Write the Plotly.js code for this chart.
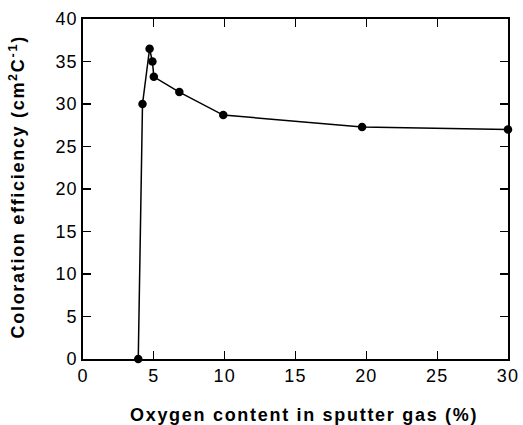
<!DOCTYPE html>
<html>
<head>
<meta charset="utf-8">
<script src="https://cdn.plot.ly/plotly-3.0.1.min.js"></script>
<style>
html,body{margin:0;padding:0;background:#fff;}
#chart{width:523px;height:425px;}
.xtick text,.ytick text{letter-spacing:1.2px;}
text.annotation-text{letter-spacing:1.7px;}
</style>
</head>
<body>
<div id="chart"></div>
<script>
const oxygen = [3.9, 4.2, 4.7, 4.9, 5.0, 6.8, 9.9, 19.7, 30.0];
const efficiency = [0, 30.0, 36.5, 35.0, 33.2, 31.4, 28.7, 27.3, 27.0];
const xTicks = [0, 5, 10, 15, 20, 25, 30];
const yTicks = [0, 5, 10, 15, 20, 25, 30, 35, 40];
const xTitle = 'Oxygen content in sputter gas (%)';
const yTitle = 'Coloration efficiency (cm<sup>2</sup>C<sup>-1</sup>)';

const trace = {
  x: oxygen, y: efficiency, type: 'scatter', mode: 'lines+markers',
  line: {color: '#000', width: 1.5},
  marker: {color: '#000', size: 8.5},
  cliponaxis: false, showlegend: false
};
const font = 'Liberation Sans, Arial, sans-serif';
const axisCommon = {
  showgrid: false, zeroline: false, showline: true, linecolor: '#000', linewidth: 1.6,
  mirror: 'ticks', ticks: 'inside', ticklen: 8, tickwidth: 1.2, tickcolor: '#000',
  tickfont: {family: font, size: 18, color: '#000'}
};
const titleFont = {family: font, size: 18, color: '#000', weight: 'bold'};
const layout = {
  width: 523, height: 425,
  margin: {l: 83, r: 15, t: 19, b: 66},
  paper_bgcolor: '#fff', plot_bgcolor: '#fff',
  xaxis: Object.assign({}, axisCommon, {range: [0, 30], tickvals: xTicks, ticktext: xTicks.map(String)}),
  yaxis: Object.assign({}, axisCommon, {range: [0, 40], tickvals: yTicks, ticktext: yTicks.map(String)}),
  annotations: [
    {text: xTitle, xref: 'paper', yref: 'paper', x: 0.521, y: -0.165, xanchor: 'center', yanchor: 'middle',
     showarrow: false, font: titleFont},
    {text: yTitle, xref: 'paper', yref: 'paper', x: -0.155, y: 0.505, xanchor: 'center', yanchor: 'middle',
     textangle: -90, showarrow: false, font: titleFont}
  ]
};
Plotly.newPlot('chart', [trace], layout, {staticPlot: true, displayModeBar: false});
</script>
</body>
</html>
